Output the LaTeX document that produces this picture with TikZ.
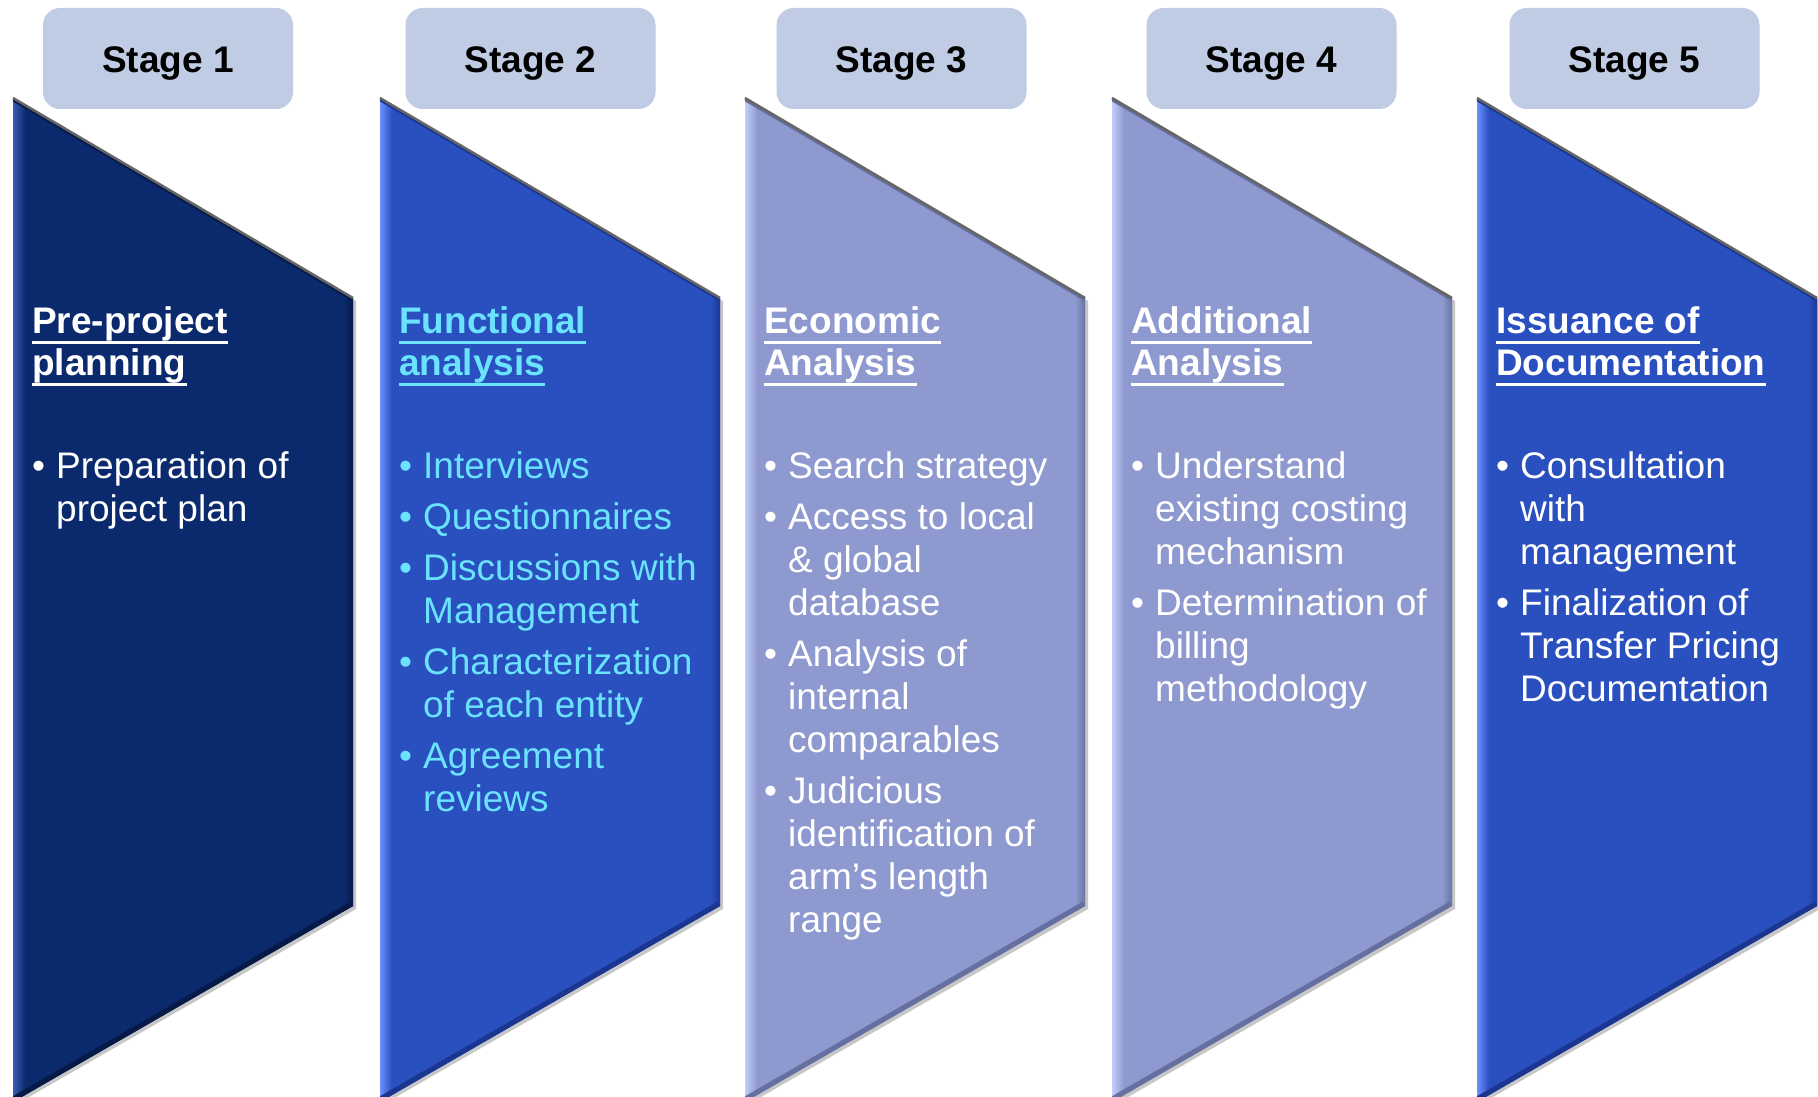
\documentclass[tikz,border=0pt]{standalone}
\usepackage{fontspec}
\setmainfont{Liberation Sans}
\usetikzlibrary{calc}
\definecolor{navy}{HTML}{0B2A6E}
\definecolor{navyL}{HTML}{3A5CB4}
\definecolor{navyD}{HTML}{061A48}
\definecolor{royal}{HTML}{2A50C0}
\definecolor{royalL}{HTML}{6A90FF}
\definecolor{royalD}{HTML}{1A3690}
\definecolor{peri}{HTML}{8E99D0}
\definecolor{periL}{HTML}{C4CEF8}
\definecolor{periD}{HTML}{6570A0}
\definecolor{hdrfill}{HTML}{C0CCE4}
\definecolor{cyantxt}{HTML}{6BE3FF}
\tikzset{
  hdr/.style={fill=hdrfill, rounded corners=17pt, minimum width=250pt, minimum height=101pt,
    font=\fontsize{37}{44}\selectfont\bfseries, text=black, inner sep=0pt,
    text height=28pt, text depth=0pt},
  ttl/.style={anchor=base west, inner sep=0pt, font=\fontsize{37}{43}\selectfont\bfseries},
  btx/.style={anchor=base west, inner sep=0pt, font=\fontsize{37}{43}\selectfont},
  ul/.style={line width=3pt},
}
\newcommand\stg[5]{%
  \coordinate (#1a) at (#2,98);
  \coordinate (#1b) at (#2+340,298);
  \coordinate (#1c) at (#2+340,906);
  \coordinate (#1d) at (#2,1102);
  \fill[black!22] ($(#1a)+(2,3)$) -- ($(#1b)+(3,3)$) -- ($(#1c)+(3,3)$) -- ($(#1d)+(2,3)$) -- cycle;
  \fill[#3] (#1a) -- (#1b) -- (#1c) -- (#1d) -- cycle;
  \begin{scope}
    \clip (#1a) -- (#1b) -- (#1c) -- (#1d) -- cycle;
    \shade[left color=#4, right color=#3] (#2,90) rectangle (#2+12,1110);
    \shade[left color=#3, right color=#5] (#2+330,290) rectangle (#2+341,1000);
    \draw[#5, line width=10pt] (#1c) -- (#1d);
    \draw[#5, line width=6pt] (#1a) -- (#1b);
  \end{scope}
  \draw[black!60, line width=2.5pt] (#1a) -- (#1b);
}
\newcommand\ttline[5]{%
  \node[ttl,text=#5] (#1) at (#2+19,#3) {#4};
  \draw[ul,#5] ([yshift=-9pt]#1.base west) -- ([yshift=-9pt]#1.base east);
}
\newcommand\bline[5]{\node[btx,text=#5] (#1) at (#2+43,#3) {#4};}
\newcommand\bdot[4]{\node[btx,text=#4] (#1) at (#2+19,#3) {•};}
\begin{document}
\begin{tikzpicture}[x=1pt,y=-1pt]
\useasboundingbox[fill=white] (0,0) rectangle (1818,1097);
% shapes
\stg{sA}{13}{navy}{navyL}{navyD}
\stg{sB}{380}{royal}{royalL}{royalD}
\stg{sC}{745}{peri}{periL}{periD}
\stg{sD}{1112}{peri}{periL}{periD}
\stg{sE}{1477}{royal}{royalL}{royalD}
% headers
\node[hdr] (h1) at (168,58.5) {Stage 1};
\node[hdr] (h2) at (530.5,58.5) {Stage 2};
\node[hdr] (h3) at (901.5,58.5) {Stage 3};
\node[hdr] (h4) at (1271.5,58.5) {Stage 4};
\node[hdr] (h5) at (1634.5,58.5) {Stage 5};
% stage 1
\ttline{t1a}{13}{333}{Pre-project}{white}
\ttline{t1b}{13}{375}{planning}{white}
\bdot{d1a}{13}{478}{white}
\bline{l1a}{13}{478}{Preparation of}{white}
\bline{l1b}{13}{521}{project plan}{white}
% stage 2
\ttline{t2a}{380}{333}{Functional}{cyantxt}
\ttline{t2b}{380}{375}{analysis}{cyantxt}
\bdot{d2a}{380}{478}{cyantxt}
\bline{l2a}{380}{478}{Interviews}{cyantxt}
\bdot{d2b}{380}{529}{cyantxt}
\bline{l2b}{380}{529}{Questionnaires}{cyantxt}
\bdot{d2c}{380}{580}{cyantxt}
\bline{l2c}{380}{580}{Discussions with}{cyantxt}
\bline{l2d}{380}{623}{Management}{cyantxt}
\bdot{d2d}{380}{674}{cyantxt}
\bline{l2e}{380}{674}{Characterization}{cyantxt}
\bline{l2f}{380}{717}{of each entity}{cyantxt}
\bdot{d2e}{380}{768}{cyantxt}
\bline{l2g}{380}{768}{Agreement}{cyantxt}
\bline{l2h}{380}{811}{reviews}{cyantxt}
% stage 3
\ttline{t3a}{745}{333}{Economic}{white}
\ttline{t3b}{745}{375}{Analysis}{white}
\bdot{d3a}{745}{478}{white}
\bline{l3a}{745}{478}{Search strategy}{white}
\bdot{d3b}{745}{529}{white}
\bline{l3b}{745}{529}{Access to local}{white}
\bline{l3c}{745}{572}{\& global}{white}
\bline{l3d}{745}{615}{database}{white}
\bdot{d3c}{745}{666}{white}
\bline{l3e}{745}{666}{Analysis of}{white}
\bline{l3f}{745}{709}{internal}{white}
\bline{l3g}{745}{752}{comparables}{white}
\bdot{d3d}{745}{803}{white}
\bline{l3h}{745}{803}{Judicious}{white}
\bline{l3i}{745}{846}{identification of}{white}
\bline{l3j}{745}{889}{arm’s length}{white}
\bline{l3k}{745}{932}{range}{white}
% stage 4
\ttline{t4a}{1112}{333}{Additional}{white}
\ttline{t4b}{1112}{375}{Analysis}{white}
\bdot{d4a}{1112}{478}{white}
\bline{l4a}{1112}{478}{Understand}{white}
\bline{l4b}{1112}{521}{existing costing}{white}
\bline{l4c}{1112}{564}{mechanism}{white}
\bdot{d4b}{1112}{615}{white}
\bline{l4d}{1112}{615}{Determination of}{white}
\bline{l4e}{1112}{658}{billing}{white}
\bline{l4f}{1112}{701}{methodology}{white}
% stage 5
\ttline{t5a}{1477}{333}{Issuance of}{white}
\ttline{t5b}{1477}{375}{Documentation}{white}
\bdot{d5a}{1477}{478}{white}
\bline{l5a}{1477}{478}{Consultation}{white}
\bline{l5b}{1477}{521}{with}{white}
\bline{l5c}{1477}{564}{management}{white}
\bdot{d5b}{1477}{615}{white}
\bline{l5d}{1477}{615}{Finalization of}{white}
\bline{l5e}{1477}{658}{Transfer Pricing}{white}
\bline{l5f}{1477}{701}{Documentation}{white}
\end{tikzpicture}
\end{document}
